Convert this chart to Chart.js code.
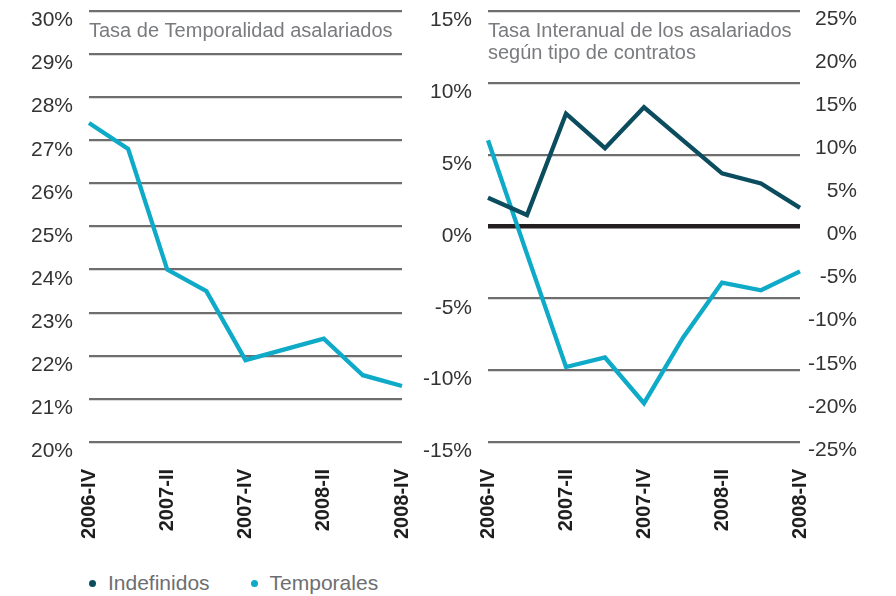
<!DOCTYPE html>
<html>
<head>
<meta charset="utf-8">
<script src="https://cdn.jsdelivr.net/npm/chart.js@4"></script>
<style>
  html, body { margin: 0; padding: 0; background: #fff; }
  body { width: 896px; height: 596px; position: relative; overflow: hidden; font-family: 'Liberation Sans', Arial, sans-serif; }
  .caja { position: absolute; top: 0; height: 555px; }
  #cajaIzq { left: 0; width: 420px; }
  #cajaDer { left: 420px; width: 476px; }
  #leyenda { position: absolute; left: 89px; top: 570px; height: 26px; display: flex; align-items: center; font-size: 21px; color: #6d6e71; }
  #leyenda span.item { display: flex; align-items: center; }
  #leyenda span.punto { width: 7px; height: 7px; border-radius: 50%; display: inline-block; margin-right: 12px; }
</style>
</head>
<body>
<div class="caja" id="cajaIzq"><canvas id="chartTemporalidad"></canvas></div>
<div class="caja" id="cajaDer"><canvas id="chartInteranual"></canvas></div>
<div id="leyenda">
  <span class="item"><span class="punto" style="background:#0b4d5e"></span>Indefinidos</span>
  <span class="item" style="margin-left:41px"><span class="punto" style="background:#0eaac8"></span>Temporales</span>
</div>
<script>
// datos
var trimestres = ['2006-IV', '2007-I', '2007-II', '2007-III', '2007-IV', '2008-I', '2008-II', '2008-III', '2008-IV'];
var tasaTemporalidad = [27.4, 26.8, 24.0, 23.5, 21.9, 22.15, 22.4, 21.55, 21.3];
var indefinidos = [2.0, 0.8, 7.85, 5.45, 8.3, 6.0, 3.7, 3.0, 1.3];
var temporales = [10.0, -3.2, -16.3, -15.2, -20.5, -12.9, -6.5, -7.4, -5.2];

var colorIndef = '#0b4d5e';
var colorTemp = '#0eaac8';
var colorGrid = '#6e6e6e';
var colorTexto = '#333333';
var fuente = "'Liberation Sans', Arial, sans-serif";

// titulo dentro del area del grafico
var tituloPlugin = {
    id: 'tituloInterno',
    afterDraw: function (chart, args, opts) {
        var ctx = chart.ctx;
        ctx.save();
        ctx.font = '20px ' + fuente;
        ctx.fillStyle = '#7a7b7e';
        ctx.textBaseline = 'middle';
        (opts.lineas || []).forEach(function (l, i) {
            ctx.fillText(l, chart.chartArea.left, 31 + i * 22);
        });
        ctx.restore();
    }
};

function ejeX() {
    return {
        grid: { display: false },
        border: { display: false },
        ticks: {
            autoSkip: false, minRotation: 90, maxRotation: 90, padding: 19,
            color: '#1e1e1e', font: { size: 20, family: fuente, weight: 'bold' },
            callback: function (v, i) { return i % 2 === 0 ? this.getLabelForValue(v) : ''; }
        },
        afterFit: function (s) { s.height = 113; s.paddingLeft = 0; s.paddingRight = 0; }
    };
}

function gridY(ceroNegro) {
    return {
        drawTicks: false,
        color: function (c) { return ceroNegro && c.tick && c.tick.value === 0 ? '#231f20' : colorGrid; },
        lineWidth: function (c) { return ceroNegro && c.tick && c.tick.value === 0 ? 4.5 : 2.2; }
    };
}

function ticksY() {
    return { stepSize: 1, padding: 16, labelOffset: 9.5, color: colorTexto, font: { size: 21, family: fuente }, callback: function (v) { return v + '%'; } };
}

// Grafico 1: Tasa de temporalidad
new Chart(document.getElementById('chartTemporalidad'), {
    type: 'line',
    data: {
        labels: trimestres,
        datasets: [{ label: 'Temporales', data: tasaTemporalidad, borderColor: colorTemp, borderWidth: 4.3, pointRadius: 0, borderJoinStyle: 'miter', tension: 0 }]
    },
    options: {
        responsive: true, maintainAspectRatio: false, animation: false,
        layout: { padding: { top: 11, right: 18, left: 0, bottom: 0 } },
        plugins: { legend: { display: false }, tooltip: { enabled: false }, tituloInterno: { lineas: ['Tasa de Temporalidad asalariados'] } },
        scales: {
            x: ejeX(),
            y: {
                min: 20, max: 30,
                grid: gridY(false), border: { display: false },
                ticks: ticksY(),
                afterFit: function (s) { s.width = 89; s.paddingTop = 0; s.paddingBottom = 0; }
            }
        }
    },
    plugins: [tituloPlugin]
});

// Grafico 2: Tasa interanual por tipo de contrato
var ticksIzq = ticksY(); ticksIzq.stepSize = 5;
var ticksDer = ticksY(); ticksDer.stepSize = 5; ticksDer.padding = 0; ticksDer.labelOffset = 8; ticksDer.crossAlign = 'far';
new Chart(document.getElementById('chartInteranual'), {
    type: 'line',
    data: {
        labels: trimestres,
        datasets: [
            { label: 'Indefinidos', data: indefinidos, yAxisID: 'y', borderColor: colorIndef, borderWidth: 4.3, pointRadius: 0, borderJoinStyle: 'miter', tension: 0 },
            { label: 'Temporales', data: temporales, yAxisID: 'y1', borderColor: colorTemp, borderWidth: 4.3, pointRadius: 0, borderJoinStyle: 'miter', tension: 0 }
        ]
    },
    options: {
        responsive: true, maintainAspectRatio: false, animation: false,
        layout: { padding: { top: 11, right: 39, left: 0, bottom: 0 } },
        plugins: { legend: { display: false }, tooltip: { enabled: false }, tituloInterno: { lineas: ['Tasa Interanual de los asalariados', 'según tipo de contratos'] } },
        scales: {
            x: ejeX(),
            y: {
                position: 'left', min: -15, max: 15,
                grid: gridY(true), border: { display: false },
                ticks: ticksIzq,
                afterFit: function (s) { s.width = 68; s.paddingTop = 0; s.paddingBottom = 0; }
            },
            y1: {
                position: 'right', min: -25, max: 25,
                grid: { drawOnChartArea: false, drawTicks: false }, border: { display: false },
                ticks: ticksDer,
                afterFit: function (s) { s.width = 57; s.paddingTop = 0; s.paddingBottom = 0; }
            }
        }
    },
    plugins: [tituloPlugin]
});
</script>
</body>
</html>
